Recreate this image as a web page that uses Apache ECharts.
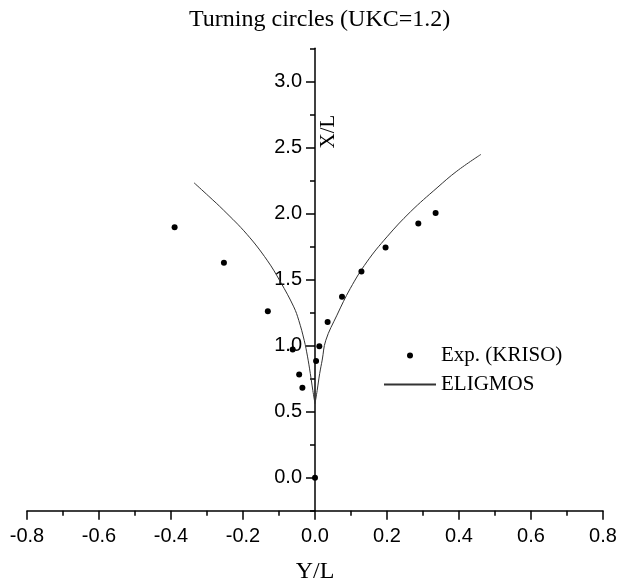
<!DOCTYPE html>
<html>
<head>
<meta charset="utf-8">
<script src="https://cdn.jsdelivr.net/npm/echarts@6/dist/echarts.min.js"></script>
<style>html,body{margin:0;padding:0;background:#fff}#c{width:618px;height:582px}</style>
</head>
<body>
<div id="c"></div>
<script>
// Experimental points (KRISO): horizontal = Y/L, vertical = X/L
const expYL = [-0.390, -0.253, -0.131, -0.062, -0.044, -0.035, 0.000, 0.003, 0.012, 0.035, 0.075, 0.129, 0.196, 0.287, 0.335];
const expXL = [1.896, 1.627, 1.260, 0.970, 0.780, 0.680, 0.000, 0.883, 0.995, 1.179, 1.369, 1.560, 1.742, 1.924, 2.003];
// ELIGMOS simulated trajectory, port branch (top to cusp) and starboard branch (cusp to top)
const eligLeftYL = [-0.336, -0.295, -0.254, -0.189, -0.133, -0.096, -0.059, -0.045, -0.030, -0.021, -0.013, -0.006, 0.000];
const eligLeftXL = [2.232, 2.130, 2.025, 1.842, 1.646, 1.482, 1.293, 1.190, 1.040, 0.920, 0.788, 0.660, 0.560];
const eligRightYL = [0.000, 0.006, 0.013, 0.020, 0.030, 0.061, 0.098, 0.144, 0.200, 0.265, 0.339, 0.394, 0.461];
const eligRightXL = [0.560, 0.660, 0.788, 0.890, 1.040, 1.230, 1.432, 1.633, 1.823, 2.012, 2.194, 2.320, 2.447];
const xTicks = {min: -0.8, max: 0.8, interval: 0.2};
const yTicks = {min: 0, max: 3.0, interval: 0.5};
const yRange = {min: -0.25, max: 3.25, minorInterval: 0.25};

const pair = (a, b) => a.map((v, i) => [v, b[i]]);
const expData = pair(expYL, expXL);
const eligLeft = pair(eligLeftYL, eligLeftXL);
const eligRight = pair(eligRightYL, eligRightXL);

const chart = echarts.init(document.getElementById('c'), null, {renderer: 'canvas'});
const axisCol = '#000';
const lineSeries = (d) => ({
  name: 'ELIGMOS', type: 'line', xAxisIndex: 0, yAxisIndex: 0,
  symbol: 'none', smooth: 0.4, lineStyle: {color: '#333', width: 1}, itemStyle: {color: '#333'},
  data: d
});
chart.setOption({
  animation: false,
  backgroundColor: '#fff',
  title: {
    text: 'Turning circles (UKC=1.2)', left: 189, top: 8, padding: 0,
    textStyle: {fontFamily: 'Liberation Serif', fontSize: 24, fontWeight: 'normal', color: '#000'}
  },
  legend: {
    orient: 'vertical', left: 383, top: 345, padding: 0, itemGap: 8,
    itemWidth: 52, itemHeight: 6,
    textStyle: {fontFamily: 'Liberation Serif', fontSize: 21, color: '#000'},
    data: [
      {name: 'Exp. (KRISO)', icon: 'circle'},
      {name: 'ELIGMOS', itemStyle: {opacity: 0}}
    ]
  },
  grid: [
    {left: 27, right: 15, top: 48.3, bottom: 71.3, outerBoundsMode: 'none', containLabel: false},
    {left: 315, width: 100, top: 81.3, bottom: 104.7, outerBoundsMode: 'none', containLabel: false}
  ],
  xAxis: [
    {
      type: 'value', gridIndex: 0, min: xTicks.min, max: xTicks.max, interval: xTicks.interval,
      name: 'Y/L', nameLocation: 'middle', nameGap: 49,
      nameTextStyle: {fontFamily: 'Liberation Serif', fontSize: 24, color: '#000'},
      axisLine: {onZero: false, lineStyle: {color: axisCol, width: 1.5}},
      axisTick: {length: 9, lineStyle: {color: axisCol, width: 1.5}},
      minorTick: {show: true, splitNumber: 2, length: 5, lineStyle: {color: axisCol, width: 1.5}},
      splitLine: {show: false},
      axisLabel: {margin: 16, fontFamily: 'Liberation Sans', fontSize: 20, color: '#000', formatter: v => v.toFixed(1)}
    },
    {type: 'value', gridIndex: 1, min: xTicks.min, max: xTicks.max, show: false}
  ],
  yAxis: [
    {
      type: 'value', gridIndex: 0, min: yRange.min, max: yRange.max, interval: yRange.minorInterval,
      axisLine: {onZero: true, lineStyle: {color: axisCol, width: 1.5}},
      axisTick: {length: 5, lineStyle: {color: axisCol, width: 1.5}},
      splitLine: {show: false},
      axisLabel: {show: false}
    },
    {
      type: 'value', gridIndex: 1, position: 'left', min: yTicks.min, max: yTicks.max, interval: yTicks.interval,
      axisLine: {show: false, onZero: false},
      axisTick: {show: true, length: 9, lineStyle: {color: axisCol, width: 1.5}},
      splitLine: {show: false},
      axisLabel: {margin: 13, fontFamily: 'Liberation Sans', fontSize: 20, color: '#000', formatter: v => v.toFixed(1)}
    }
  ],
  graphic: [{
    type: 'text', x: 328.5, y: 131.5, rotation: Math.PI / 2,
    style: {text: 'X/L', fontFamily: 'Liberation Serif', fontSize: 21, fill: '#000', align: 'center', verticalAlign: 'middle'}
  }],
  series: [
    {
      name: 'Exp. (KRISO)', type: 'scatter', xAxisIndex: 0, yAxisIndex: 0,
      symbol: 'circle', symbolSize: 6, itemStyle: {color: '#000', opacity: 1}, data: expData, z: 5
    },
    lineSeries(eligLeft),
    lineSeries(eligRight)
  ]
});
</script>
</body>
</html>
